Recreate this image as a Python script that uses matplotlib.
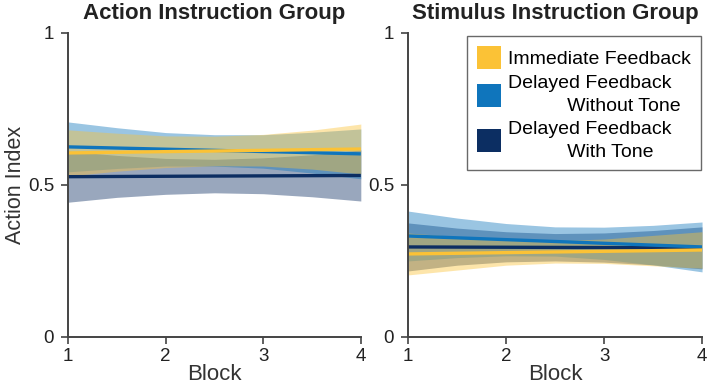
import matplotlib.pyplot as plt
from matplotlib.patches import Patch
import numpy as np

plt.rcParams['font.family'] = ['Liberation Sans', 'DejaVu Sans']

# Block positions where the bands were read
blocks = [1, 1.5, 2, 2.5, 3, 3.5, 4]
line_x = [1, 4]

indent = ' ' * 11
labels = ['Immediate Feedback', 'Delayed Feedback\n' + indent + 'Without Tone',
          'Delayed Feedback\n' + indent + 'With Tone']
colors = ['#FBC236', '#0F75BC', '#0C2E62']

# Action instruction group (left)
act_line = [[0.605, 0.618], [0.625, 0.602], [0.527, 0.531]]
act_upper = [
    [0.681, 0.670, 0.661, 0.660, 0.666, 0.680, 0.700],
    [0.707, 0.688, 0.672, 0.665, 0.665, 0.673, 0.684],
    [0.611, 0.597, 0.587, 0.584, 0.589, 0.599, 0.615],
]
act_lower = [
    [0.529, 0.545, 0.557, 0.563, 0.562, 0.552, 0.536],
    [0.543, 0.554, 0.562, 0.562, 0.555, 0.539, 0.520],
    [0.443, 0.459, 0.469, 0.474, 0.471, 0.461, 0.447],
]

# Stimulus instruction group (right)
stim_line = [[0.273, 0.286], [0.332, 0.296], [0.296, 0.293]]
stim_upper = [
    [0.342, 0.330, 0.318, 0.317, 0.322, 0.334, 0.346],
    [0.414, 0.391, 0.373, 0.362, 0.361, 0.367, 0.378],
    [0.375, 0.358, 0.346, 0.340, 0.342, 0.350, 0.362],
]
stim_lower = [
    [0.204, 0.220, 0.236, 0.243, 0.242, 0.234, 0.226],
    [0.250, 0.261, 0.267, 0.266, 0.255, 0.237, 0.214],
    [0.217, 0.236, 0.247, 0.250, 0.246, 0.237, 0.224],
]

fig = plt.figure(figsize=(7.09, 3.86), dpi=100)
ax1 = fig.add_axes([0.0959, 0.127, 0.413, 0.788])
ax2 = fig.add_axes([0.5755, 0.127, 0.4147, 0.788])


def draw_panel(ax, title, line, upper, lower):
    # navy first, yellow last so the overlaps turn olive
    for i in [2, 1, 0]:
        ax.fill_between(blocks, lower[i], upper[i], color=colors[i], alpha=0.42, linewidth=0)
    for i in [2, 1, 0]:
        ax.plot(line_x, line[i], color=colors[i], linewidth=2.4, solid_capstyle='butt')
    ax.set_xlim(1, 4)
    ax.set_ylim(0, 1)
    ax.set_xticks([1, 2, 3, 4])
    ax.set_yticks([0, 0.5, 1])
    ax.set_yticklabels(['0', '0.5', '1'])
    for s in ['top', 'right']:
        ax.spines[s].set_visible(False)
    for s in ['left', 'bottom']:
        ax.spines[s].set_color('#444444')
        ax.spines[s].set_linewidth(1.4)
    ax.tick_params(colors='#444444', labelcolor='#222222', labelsize=13.5, length=5, width=1.2)
    ax.tick_params(axis='y', pad=5)
    ax.tick_params(axis='x', pad=3)
    ax.set_title(title, fontsize=16, fontweight='bold', color='#222222', pad=10)
    ax.set_xlabel('Block', fontsize=16, color='#333333', labelpad=-1)


draw_panel(ax1, 'Action Instruction Group', act_line, act_upper, act_lower)
draw_panel(ax2, 'Stimulus Instruction Group', stim_line, stim_upper, stim_lower)
ax1.set_ylabel('Action Index', fontsize=15.5, color='#333333', labelpad=1)

handles = [Patch(facecolor=c, edgecolor='none') for c in colors]
leg = ax2.legend(handles, labels, loc='upper right', bbox_to_anchor=(0.995, 0.988),
                 fontsize=14, frameon=True, fancybox=False, edgecolor='#444444',
                 handlelength=1.25, handleheight=1.45, handletextpad=0.35,
                 labelspacing=0.3, borderpad=0.5, borderaxespad=0)
leg.get_frame().set_linewidth(1.0)
for t in leg.get_texts():
    t.set_linespacing(1.45)

plt.savefig('out.png', dpi=100)
